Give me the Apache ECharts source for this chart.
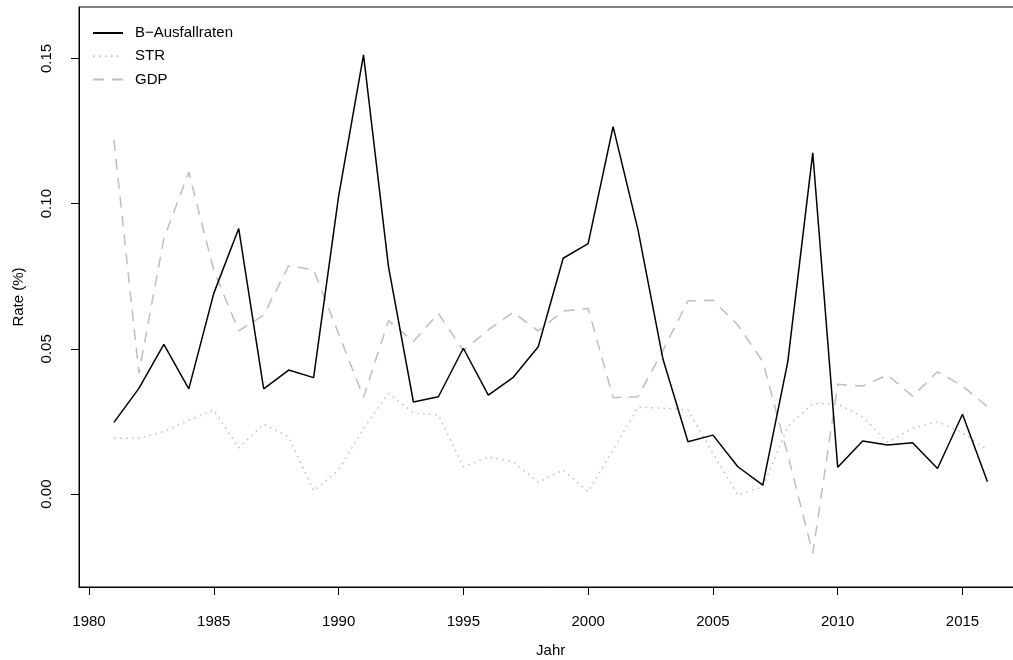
<!DOCTYPE html>
<html>
<head>
<meta charset="utf-8">
<script src="https://cdn.jsdelivr.net/npm/echarts@6/dist/echarts.min.js"></script>
<style>
html,body{margin:0;padding:0;background:#fff;}
#chart{width:1013px;height:660px;}
</style>
</head>
<body>
<div id="chart"></div>
<script>
var years = [1981,1982,1983,1984,1985,1986,1987,1988,1989,1990,1991,1992,1993,1994,1995,1996,1997,1998,1999,2000,2001,2002,2003,2004,2005,2006,2007,2008,2009,2010,2011,2012,2013,2014,2015,2016];
var ausfall = [0.0247,0.0364,0.0515,0.0362,0.0691,0.0914,0.0362,0.0427,0.0401,0.1024,0.1512,0.0783,0.0317,0.0335,0.0502,0.0341,0.0402,0.0507,0.0812,0.0862,0.1265,0.0909,0.0464,0.0180,0.0203,0.0094,0.0031,0.0456,0.1175,0.0092,0.0183,0.0169,0.0177,0.0088,0.0275,0.0042];
var str = [0.0192,0.0192,0.0215,0.0255,0.0289,0.0159,0.0241,0.0197,0.0011,0.0083,0.0225,0.0347,0.0280,0.0272,0.0094,0.0128,0.0111,0.0040,0.0083,0.0008,0.0152,0.0299,0.0296,0.0289,0.0140,-0.0003,0.0025,0.0232,0.0312,0.0310,0.0266,0.0178,0.0226,0.0249,0.0211,0.0152];
var gdp = [0.1219,0.0416,0.0880,0.1108,0.0770,0.0562,0.0616,0.0786,0.0772,0.0552,0.0333,0.0597,0.0525,0.0622,0.0494,0.0565,0.0626,0.0562,0.0630,0.0639,0.0332,0.0335,0.0495,0.0665,0.0667,0.0582,0.0456,0.0135,-0.0204,0.0378,0.0372,0.0410,0.0337,0.0421,0.0372,0.0301];
var xTicks = [1980,1985,1990,1995,2000,2005,2010,2015];
var yTicks = [0,0.05,0.10,0.15];
var seriesNames = ['B\u2212Ausfallraten','STR','GDP'];

function pairs(vals){ return years.map(function(y,i){ return [y, vals[i]]; }); }

var FONT = '"Liberation Sans", Arial, Helvetica, sans-serif';
var chart = echarts.init(document.getElementById('chart'), null, {renderer:'canvas'});
chart.setOption({
  animation:false,
  backgroundColor:'#ffffff',
  textStyle:{fontFamily:FONT},
  grid:{left:79, top:7, right:-9.4, bottom:73, containLabel:false, outerBoundsMode:'none',
        show:true, borderColor:'#000', borderWidth:1, backgroundColor:'transparent'},
  legend:{
    show:true, orient:'vertical', left:87, top:20.5,
    itemWidth:30, itemHeight:14, itemGap:8.3,
    itemStyle:{opacity:0},
    textStyle:{fontFamily:FONT, fontSize:15, color:'#000', lineHeight:15, padding:[0,0,0,7]},
    data:seriesNames
  },
  xAxis:{
    type:'value', min:1979.6, max:2017.4,
    name:'Jahr', nameLocation:'middle', nameGap:56,
    nameTextStyle:{fontFamily:FONT, fontSize:15, color:'#000'},
    axisLine:{show:true, onZero:false, lineStyle:{color:'#000', width:1}},
    axisTick:{show:true, length:8, lineStyle:{color:'#000', width:1}, customValues:xTicks},
    axisLabel:{show:true, margin:27, fontFamily:FONT, fontSize:15, color:'#000', customValues:xTicks,
      formatter:function(v){return String(v);} },
    splitLine:{show:false}
  },
  yAxis:{
    type:'value', min:-0.032, max:0.1677,
    name:'Rate (%)', nameLocation:'middle', nameGap:53,
    nameTextStyle:{fontFamily:FONT, fontSize:15, color:'#000'},
    axisLine:{show:true, onZero:false, lineStyle:{color:'#000', width:1}},
    axisTick:{show:true, length:8, lineStyle:{color:'#000', width:1}, customValues:yTicks},
    axisLabel:{show:true, rotate:90, margin:25, fontFamily:FONT, fontSize:15, color:'#000', customValues:yTicks,
      formatter:function(v){return v.toFixed(2);} },
    splitLine:{show:false}
  },
  series:[
    {name:seriesNames[0], type:'line', data:pairs(ausfall), symbol:'none', showSymbol:false,
     lineStyle:{color:'#000000', width:1.5, type:'solid'}, itemStyle:{color:'#000000'}, z:3},
    {name:seriesNames[1], type:'line', data:pairs(str), symbol:'none', showSymbol:false,
     lineStyle:{color:'#bebebe', width:1.5, type:[1.5,4.5]}, itemStyle:{color:'#bebebe'}, z:2},
    {name:seriesNames[2], type:'line', data:pairs(gdp), symbol:'none', showSymbol:false,
     lineStyle:{color:'#bebebe', width:1.5, type:[11,8]}, itemStyle:{color:'#bebebe'}, z:2}
  ]
});
</script>
</body>
</html>
